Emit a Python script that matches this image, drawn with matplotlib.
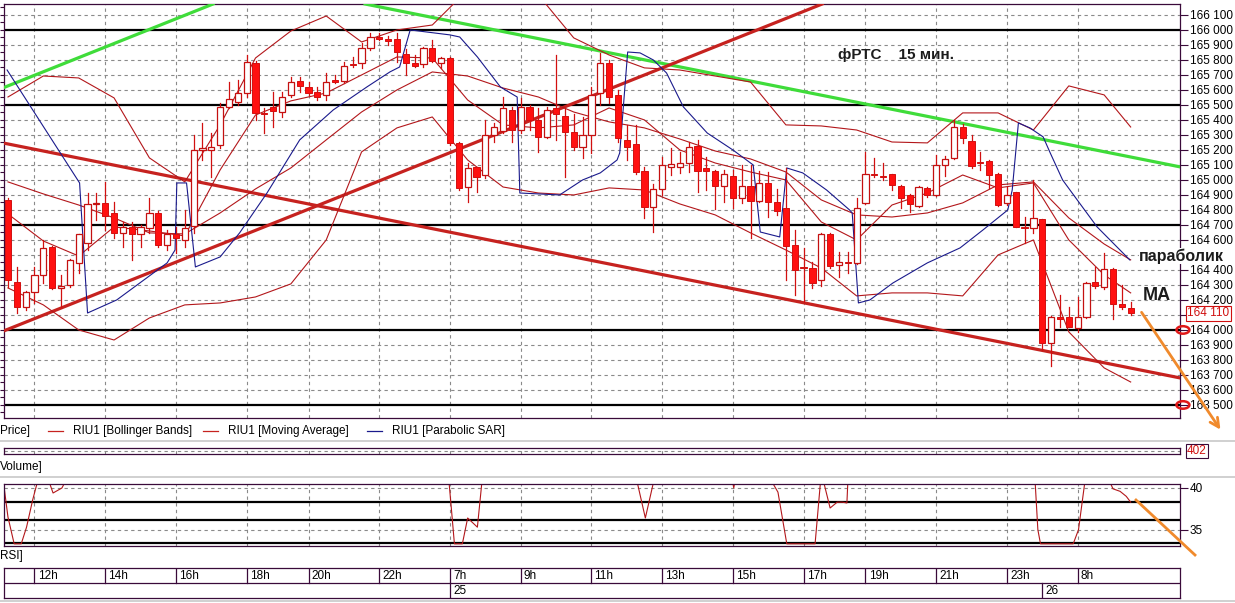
import matplotlib.pyplot as plt
from matplotlib.patches import Rectangle, Ellipse, FancyArrowPatch
from matplotlib.lines import Line2D
import matplotlib.transforms as mtransforms

plt.rcParams['font.family'] = ['Liberation Sans', 'DejaVu Sans']

# 15 min candles, RIU1
opens = [164867, 164322, 164156, 164256, 164367, 164556, 164280, 164300, 164444, 164578,
         164840, 164849, 164778, 164644, 164689, 164640, 164678, 164778, 164567, 164640,
         164600, 164690, 165200, 165200, 165233, 165489, 165522, 165578, 165778, 165444,
         165484, 165456, 165567, 165662, 165622, 165587, 165567, 165667, 165660, 165773,
         165778, 165878, 165951, 165938, 165940, 165838, 165782, 165771, 165878, 165778,
         165811, 165244, 164956, 165089, 165033, 165300, 165327, 165467, 165333, 165484,
         165400, 165284, 165478, 165427, 165318, 165222, 165300, 165578, 165778, 165567,
         165267, 165240, 165060, 164822, 164938, 165085, 165085, 165116, 165227, 165078,
         165060, 164960, 165027, 164878, 164960, 164862, 164978, 164856, 164811, 164567,
         164418, 164411, 164333, 164638, 164433, 164451, 164449, 164849, 165040, 165027,
         165038, 164960, 164900, 164827, 164945, 164900, 165100, 165145, 165356, 165262,
         165122, 165127, 165040, 164845, 164918, 164685, 164678, 164738, 163911, 164089,
         164085, 164011, 164085, 164323, 164285, 164405, 164173, 164145]
highs = [164880, 164422, 164260, 164422, 164600, 164560, 164367, 164470, 164640, 164911,
         164911, 164989, 164856, 164720, 164720, 164700, 164878, 164790, 164667, 164689,
         164800, 165300, 165378, 165311, 165511, 165656, 165667, 165833, 165790, 165478,
         165589, 165589, 165689, 165689, 165650, 165622, 165711, 165700, 165789, 165822,
         165911, 165978, 165978, 165960, 165978, 165870, 165833, 165889, 165933, 165822,
         165822, 165256, 165111, 165089, 165400, 165378, 165556, 165489, 165544, 165500,
         165478, 165489, 165833, 165478, 165440, 165420, 165622, 165845, 165800, 165600,
         165367, 165367, 165089, 164970, 165156, 165211, 165189, 165256, 165267, 165156,
         165067, 165067, 165067, 165100, 165100, 165060, 165056, 164940, 165078, 164667,
         164545, 164456, 164645, 164645, 164523, 164523, 164878, 165189, 165149, 165111,
         165040, 164965, 164905, 164960, 164956, 165167, 165160, 165400, 165370, 165300,
         165189, 165130, 165045, 164956, 164920, 164756, 165000, 164740, 164090, 164233,
         164156, 164222, 164320, 164422, 164516, 164410, 164300, 164189]
lows = [164289, 164111, 164130, 164178, 164311, 164270, 164156, 164289, 164378, 164533,
        164733, 164667, 164611, 164556, 164467, 164556, 164644, 164556, 164533, 164511,
        164556, 164644, 165133, 165022, 165211, 165478, 165500, 165556, 165400, 165311,
        165356, 165422, 165556, 165589, 165567, 165533, 165533, 165644, 165644, 165756,
        165744, 165867, 165933, 165900, 165789, 165700, 165756, 165756, 165789, 165744,
        165233, 164933, 164856, 164922, 165011, 165256, 165311, 165256, 165311, 165333,
        165189, 165278, 165267, 165022, 165200, 165144, 165178, 165500, 165511, 165256,
        165133, 165040, 164745, 164656, 164900, 165033, 165044, 165056, 164922, 164933,
        164805, 164856, 164811, 164845, 164611, 164850, 164756, 164767, 164333, 164233,
        164189, 164278, 164293, 164411, 164356, 164378, 164440, 164840, 165020, 165000,
        164933, 164811, 164789, 164822, 164889, 164895, 165027, 165140, 165249, 165078,
        165067, 164945, 164826, 164833, 164689, 164578, 164645, 163867, 163760, 164022,
        164022, 163989, 164080, 164280, 164270, 164071, 164140, 164100]
closes = [164333, 164156, 164256, 164367, 164544, 164278, 164290, 164467, 164638, 164838,
          164845, 164760, 164644, 164689, 164640, 164684, 164778, 164567, 164638, 164611,
          164678, 165200, 165210, 165222, 165489, 165538, 165582, 165789, 165444, 165440,
          165462, 165556, 165656, 165627, 165578, 165556, 165656, 165656, 165760, 165767,
          165878, 165951, 165938, 165929, 165851, 165778, 165760, 165878, 165793, 165811,
          165244, 164944, 165078, 165022, 165300, 165351, 165478, 165333, 165489, 165400,
          165284, 165467, 165440, 165318, 165222, 165300, 165567, 165778, 165556, 165278,
          165222, 165056, 164822, 164938, 165100, 165105, 165116, 165218, 165062, 165062,
          164960, 165040, 164878, 164960, 164862, 164978, 164856, 164796, 164562, 164400,
          164415, 164311, 164638, 164427, 164451, 164445, 164816, 165038, 165033, 165018,
          164967, 164878, 164840, 164956, 164900, 165098, 165138, 165356, 165278, 165093,
          165110, 165033, 164833, 164900, 164689, 164680, 164745, 163911, 164085, 164071,
          164022, 164089, 164316, 164293, 164405, 164173, 164151, 164110]

# indicator lines, read at every 4th candle
ind_idx = [0, 4, 8, 12, 16, 20, 24, 28, 32, 36, 40, 44, 48, 52, 56, 60, 64,
           68, 72, 76, 80, 84, 88, 92, 96, 100, 104, 108, 112, 116, 120, 124, 127]
bb_upper = [165553, 165693, 165680, 165547, 165147, 164987, 165367, 165813, 165993, 166093,
            165920, 166000, 166033, 166267, 166367, 166233, 165947, 165833, 165747, 165733,
            165693, 165653, 165367, 165360, 165333, 165253, 165247, 165447, 165447, 165333,
            165627, 165567, 165353]
bb_middle = [164987, 164907, 164833, 164747, 164647, 164640, 164780, 164940, 165080, 165267,
             165453, 165600, 165720, 165693, 165613, 165553, 165453, 165387, 165347, 165273,
             165193, 165140, 165053, 164867, 164767, 164753, 164780, 164847, 164967, 164987,
             164747, 164573, 164467]
bb_lower = [164280, 164167, 164000, 163933, 164080, 164167, 164180, 164220, 164307, 164600,
            165187, 165347, 165420, 165133, 164953, 164913, 164900, 164947, 164933, 164840,
            164767, 164647, 164533, 164413, 164227, 164247, 164247, 164227, 164500, 164600,
            163987, 163747, 163653]
ma_line = [164773, 164593, 164493, 164687, 164660, 164627, 165067, 165433, 165527, 165580,
           165700, 165820, 165813, 165533, 165367, 165347, 165367, 165480, 165400, 165200,
           165113, 165053, 165000, 164720, 164600, 164833, 164913, 165033, 164947, 164980,
           164600, 164367, 164247]

# parabolic SAR (drawn as a line by the terminal)
sar_idx = [-0.1, 8.1, 9.0, 12.3, 18.0, 18.9, 19.1, 20.2, 21.2, 24.0, 26.2, 29.3, 33.0, 36.8,
           40.6, 43.2, 44.3, 45.5, 50.0, 51.1, 53.1, 55.7, 57.6, 57.9, 62.4, 65.0, 67.0, 68.9,
           69.2, 70.1, 71.5, 73.0, 74.5, 76.4, 79.1, 82.0, 84.3, 85.1, 87.3, 88.1, 89.9, 92.6,
           95.2, 95.5, 96.2, 97.5, 100.1, 104.0, 107.7, 110.3, 113.1, 113.6, 114.3, 115.6,
           117.1, 117.9, 119.3, 121.2, 123.2, 125.0, 126.9]
sar_val = [165733, 164980, 164113, 164200, 164447, 164533, 164980, 164980, 164420, 164487,
           164647, 164913, 165267, 165467, 165620, 165720, 165753, 166000, 165967, 165953,
           165820, 165620, 165553, 164913, 164900, 165000, 165047, 165133, 165180, 165853,
           165847, 165800, 165713, 165487, 165313, 165200, 165100, 164653, 164620, 165080,
           165047, 164933, 164800, 164780, 164180, 164200, 164313, 164447, 164547, 164667,
           164800, 164933, 165380, 165347, 165287, 165180, 165000, 164847, 164687, 164580,
           164467]

# RSI, only the part below 40.5 is visible
rsi_idx = [-0.5, 0.0, 0.7, 1.5, 2.1, 2.8, 3.3, 4.0, 4.7, 5.1, 6.1, 6.4, 7.0,
           49.5, 49.9, 50.2, 50.5, 51.4, 52.0, 53.1, 53.6, 54.0,
           70.8, 71.2, 72.1, 73.0, 73.4, 81.7, 82.0, 82.1, 82.2, 82.5,
           86.2, 86.5, 87.1, 88.1, 91.3, 91.9, 92.1, 92.3, 93.0, 93.8, 94.4, 94.9, 95.0, 95.3,
           115.9, 116.2, 116.5, 116.8, 120.5, 121.1, 121.8, 122.1,
           124.4, 124.7, 125.0, 125.8, 126.5, 127.0]
rsi_val = [40.6, 36.5, 33.3, 33.3, 35.3, 38.6, 40.6, 42.0, 40.6, 39.4, 40.0, 40.6, 42.0,
           42.0, 40.6, 37.0, 33.3, 33.3, 36.4, 35.3, 40.6, 42.0,
           42.0, 40.6, 36.4, 40.6, 42.0, 42.0, 40.6, 40.0, 40.6, 42.0,
           42.0, 40.6, 39.5, 33.3, 33.3, 40.6, 42.0, 40.6, 37.6, 38.3, 38.3, 38.2, 40.6, 42.0,
           42.0, 40.6, 35.0, 33.3, 33.3, 35.0, 40.6, 42.0,
           42.0, 40.6, 39.9, 39.6, 39.0, 38.3]

hour_idx = [3, 11, 19, 27, 34, 42, 50, 58, 66, 74, 82, 90, 97, 105, 113, 121]
hour_labels = ['12h', '14h', '16h', '18h', '20h', '22h', '7h', '9h', '11h', '13h',
               '15h', '17h', '19h', '21h', '23h', '8h']
day_idx = [50, 117]
day_labels = ['25', '26']

levels = [166000, 165500, 164700, 164000, 163500]
marked_levels = [164000, 163500]
hidden_ticks = [164100, 164500]   # covered by the price tag and the caption
rsi_levels = [38.3, 36.2, 33.4]
volume_last = 402

# hand drawn trend lines: (idx0, price0, idx1, price1)
green_lines = [(-0.6, 165613, 23.2, 166173), (40.4, 166173, 132.6, 165087)]
red_lines = [(-0.5, 163993, 92.1, 166173), (-0.6, 165247, 132.6, 163680)]

W, H = 1235, 603
frame = '#3a0a3a'
grid_c = '#8a8a8a'
band_c = '#b3171b'
xlim = (-0.45, 132.58)


def box(x0, y0, x1, y1):
    return [x0 / W, 1 - y1 / H, (x1 - x0) / W, (y1 - y0) / H]


def fmt(v):
    return f"{int(v) // 1000} {int(v) % 1000:03d}"


fig = plt.figure(figsize=(W / 100, H / 100), dpi=100)

# ---- price panel
ax = fig.add_axes(box(4, 4, 1180, 418))
ax.set_xlim(*xlim)
ax.set_ylim(163413, 166173)
for p in range(163500, 166200, 100):
    if p not in levels:
        ax.axhline(p, color=grid_c, lw=0.8, ls=(0, (3, 3)), zorder=1)
for h in hour_idx:
    ax.axvline(h, color=grid_c, lw=0.8, ls=(0, (3, 3)), zorder=1)
for p in levels:
    ax.axhline(p, color='black', lw=1.6, zorder=2)

for x0, y0, x1, y1 in green_lines:
    ax.plot([x0, x1], [y0, y1], color='#3fdc3a', lw=2.3, zorder=3)
for x0, y0, x1, y1 in red_lines:
    ax.plot([x0, x1], [y0, y1], color='#c6221f', lw=2.3, zorder=3)

ax.plot(ind_idx, bb_upper, color=band_c, lw=0.8, zorder=4)
ax.plot(ind_idx, bb_middle, color=band_c, lw=0.8, zorder=4)
ax.plot(ind_idx, bb_lower, color=band_c, lw=0.8, zorder=4)
ax.plot(ind_idx, ma_line, color=band_c, lw=0.8, zorder=4)
ax.plot(sar_idx, sar_val, color='#1a1a8c', lw=0.8, zorder=4)

for i, (o, h, l, c) in enumerate(zip(opens, highs, lows, closes)):
    ax.plot([i, i], [l, h], color='#d21010', lw=0.9, zorder=5)
    bottom = min(o, c)
    height = max(abs(c - o), 8)
    if c < o:
        rect = Rectangle((i - 0.35, bottom), 0.7, height, facecolor='#ff1010',
                         edgecolor='#d21010', lw=0.7, zorder=6)
    else:
        rect = Rectangle((i - 0.35, bottom), 0.7, height, facecolor='white',
                         edgecolor='#c41010', lw=0.9, zorder=6)
    ax.add_patch(rect)

ax.yaxis.tick_right()
ticks = list(range(163500, 166200, 100))
ax.set_yticks(ticks)
ax.set_yticklabels(['' if v in hidden_ticks else fmt(v) for v in ticks])
ax.set_yticks(range(163450, 166200, 50), minor=True)
ax.yaxis.remove_overlapping_locs = False
ax.tick_params(axis='y', which='major', right=True, left=False, length=6, width=0.8,
               color=frame, labelsize=8.5, pad=1)
ax.tick_params(axis='y', which='minor', right=False, left=True, length=3, width=0.8, color=frame)
ax.set_xticks([])
for s in ax.spines.values():
    s.set_color(frame)
    s.set_linewidth(0.9)

# last price tag
tr = mtransforms.blended_transform_factory(ax.transAxes, ax.transData)
ax.text(1.006, closes[-1], fmt(closes[-1]), transform=tr, color='#d01010', fontsize=8.5,
        va='center', ha='left',
        bbox=dict(boxstyle='square,pad=0.12', fc='white', ec='#d01010', lw=0.8), zorder=10)
for p in marked_levels:
    ax.add_patch(Ellipse((1.0025, p), 0.011, 50, transform=tr, fill=False,
                         ec='#e01818', lw=1.8, clip_on=False, zorder=11))

# ---- volume panel
axv = fig.add_axes(box(4, 448, 1180, 454))
axv.set_xlim(*xlim)
axv.set_ylim(0, 1)
axv.axhline(0.5, color=grid_c, lw=0.8, ls=(0, (3, 3)))
for h in hour_idx:
    axv.axvline(h, color=grid_c, lw=0.8, ls=(0, (3, 3)))
axv.set_xticks([])
axv.set_yticks([])
for s in axv.spines.values():
    s.set_color(frame)
    s.set_linewidth(0.9)
axv.text(1.006, 0.5, str(volume_last), transform=axv.transAxes, color='#d01010', fontsize=8.5,
         va='center', ha='left',
         bbox=dict(boxstyle='square,pad=0.12', fc='white', ec=frame, lw=0.8))

# ---- RSI panel
axr = fig.add_axes(box(4, 484, 1180, 546))
axr.set_xlim(*xlim)
axr.set_ylim(33.04, 40.48)
for v in [35, 40]:
    axr.axhline(v, color=grid_c, lw=0.8, ls=(0, (3, 3)))
for h in hour_idx:
    axr.axvline(h, color=grid_c, lw=0.8, ls=(0, (3, 3)))
for v in rsi_levels:
    axr.axhline(v, color='black', lw=1.6)
axr.plot(rsi_idx, rsi_val, color=band_c, lw=0.8)
axr.yaxis.tick_right()
axr.set_yticks([35, 40])
axr.tick_params(axis='y', length=6, width=0.8, color=frame, labelsize=8.5, pad=1)
axr.set_xticks([])
for s in axr.spines.values():
    s.set_color(frame)
    s.set_linewidth(0.9)

# ---- time axis
axt = fig.add_axes(box(4, 568, 1180, 598))
axt.set_xlim(*xlim)
axt.set_ylim(0, 2)
axt.axhline(1, color=frame, lw=0.9)
for h, lab in zip(hour_idx, hour_labels):
    axt.plot([h, h], [1, 2], color=frame, lw=0.9)
    axt.text(h + 0.35, 1.45, lab, fontsize=8.5, va='center', ha='left')
for d, lab in zip(day_idx, day_labels):
    axt.plot([d, d], [0, 1], color=frame, lw=0.9)
    axt.text(d + 0.35, 0.45, lab, fontsize=8.5, va='center', ha='left')
axt.set_xticks([])
axt.set_yticks([])
for s in axt.spines.values():
    s.set_color(frame)
    s.set_linewidth(0.9)

# ---- legend row and panel captions
def fx(x):
    return x / W


def fy(y):
    return 1 - y / H


fig.text(fx(0), fy(431), 'Price]', fontsize=8.5, va='center')
legend_items = [(48, '#c6221f', 'RIU1 [Bollinger Bands]'),
                (203, '#c6221f', 'RIU1 [Moving Average]'),
                (367, '#1a1a8c', 'RIU1 [Parabolic SAR]')]
for x0, col, lab in legend_items:
    fig.add_artist(Line2D([fx(x0), fx(x0 + 15)], [fy(431), fy(431)], color=col, lw=0.9,
                          transform=fig.transFigure))
    fig.text(fx(x0 + 25), fy(431), lab, fontsize=8.5, va='center')
fig.text(fx(0), fy(467), 'Volume]', fontsize=8.5, va='center')
fig.text(fx(0), fy(556), 'RSI]', fontsize=8.5, va='center')

for yy in [441, 477, 601]:
    fig.add_artist(Line2D([0, 1], [fy(yy), fy(yy)], color='#c8c8c8', lw=1.2,
                          transform=fig.transFigure))

# ---- annotations
fig.text(fx(838), fy(55), 'фРТС    15 мин.', fontsize=11, fontweight='bold',
         color='#1c1c1c', va='center')
fig.text(fx(1139), fy(256), 'параболик', fontsize=11.5, fontweight='bold',
         color='#1c1c1c', va='center', zorder=20,
         bbox=dict(boxstyle='square,pad=0', fc='white', ec='none'))
fig.text(fx(1143), fy(295), 'MA', fontsize=13, fontweight='bold', color='#1c1c1c',
         va='center', zorder=20)

orange = '#f08a2c'
fig.add_artist(FancyArrowPatch((fx(1140), fy(310)), (fx(1222), fy(432)),
                               transform=fig.transFigure, arrowstyle='->',
                               mutation_scale=16, color=orange, lw=2))
fig.add_artist(Line2D([fx(1136), fx(1195)], [fy(500), fy(555)], color=orange, lw=2,
                      transform=fig.transFigure))

fig.savefig('out.png', dpi=100)
